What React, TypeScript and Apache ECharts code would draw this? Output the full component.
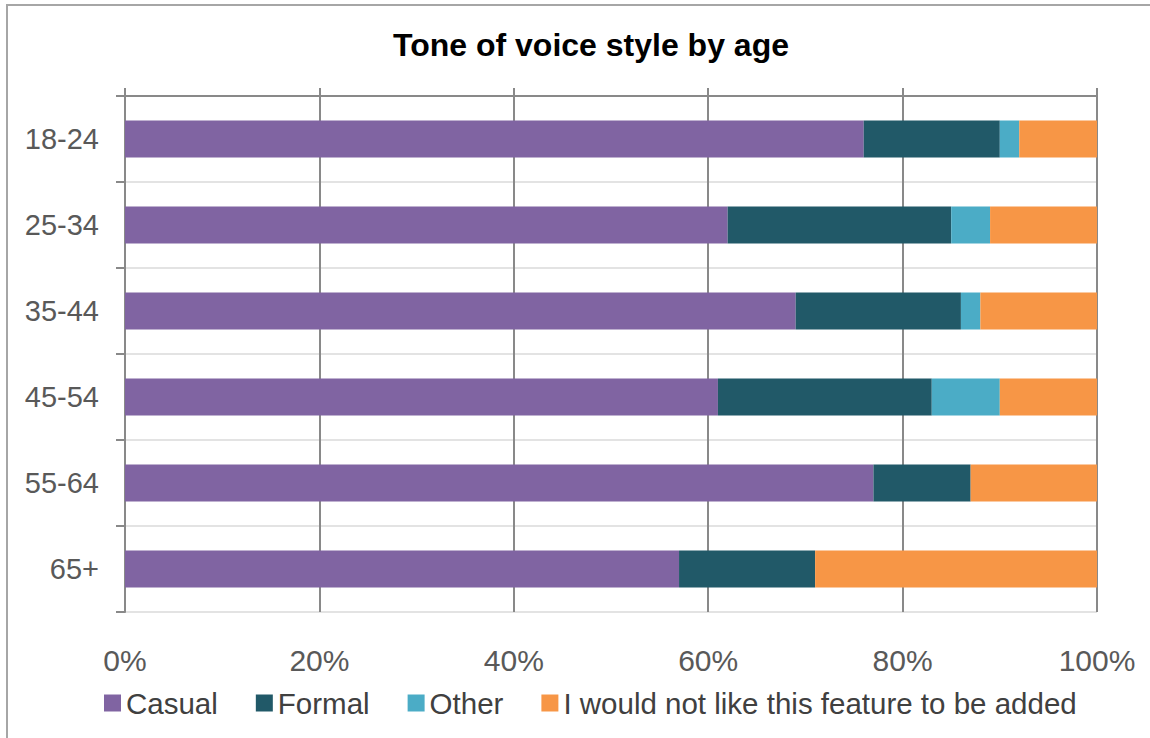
import React, { useEffect, useRef } from "react";
import * as echarts from "echarts";

// Share of respondents choosing each tone of voice, per age band (percent)
const ageBands = ["18-24", "25-34", "35-44", "45-54", "55-64", "65+"];
const casual = [76, 62, 69, 61, 77, 57];
const formal = [14, 23, 17, 22, 10, 14];
const other = [2, 4, 2, 7, 0, 0];
const notAdded = [8, 11, 12, 10, 13, 29];

const seriesNames = ["Casual", "Formal", "Other", "I would not like this feature to be added"];
const seriesColors = ["#8064A2", "#215968", "#4BACC6", "#F79646"];
const xTicks = [0, 20, 40, 60, 80, 100];

const FONT = "'Liberation Sans', Arial, sans-serif";

export default function App() {
  const ref = useRef<HTMLDivElement>(null);

  useEffect(() => {
    if (!ref.current) return;
    const chart = echarts.init(ref.current, undefined, { renderer: "svg" });
    const values = [casual, formal, other, notAdded];
    const axisGray = "#898989";

    chart.setOption({
      animation: false,
      backgroundColor: "#ffffff",
      textStyle: { fontFamily: FONT },
      title: {
        text: "Tone of voice style by age",
        left: 388,
        top: 24,
        textStyle: { fontFamily: FONT, fontSize: 32, fontWeight: "bold", color: "#000000" },
      },
      legend: {
        left: 99,
        top: 683,
        icon: "rect",
        itemWidth: 17,
        itemHeight: 17,
        itemGap: 38,
        textStyle: { fontFamily: FONT, fontSize: 29.5, color: "#404040" },
        data: seriesNames,
      },
      grid: { left: 125, right: 53, top: 96, bottom: 126, containLabel: false },
      xAxis: [
        {
          type: "value",
          position: "top",
          min: xTicks[0],
          max: xTicks[xTicks.length - 1],
          interval: 20,
          axisLine: { show: true, lineStyle: { color: axisGray, width: 2 } },
          axisTick: { show: true, length: 8, lineStyle: { color: axisGray, width: 2 } },
          axisLabel: { show: false },
          splitLine: { show: true, lineStyle: { color: axisGray, width: 2 } },
        },
        {
          type: "value",
          position: "bottom",
          min: xTicks[0],
          max: xTicks[xTicks.length - 1],
          interval: 20,
          axisLine: { show: false },
          axisTick: { show: false },
          splitLine: { show: false },
          axisLabel: {
            show: true,
            formatter: "{value}%",
            margin: 33,
            fontFamily: FONT,
            fontSize: 30,
            color: "#595959",
          },
        },
      ],
      yAxis: {
        type: "category",
        inverse: true,
        data: ageBands,
        axisLine: { show: true, lineStyle: { color: axisGray, width: 2 } },
        axisTick: { show: true, length: 9, lineStyle: { color: axisGray, width: 2 } },
        splitLine: { show: true, lineStyle: { color: "#e3e3e3", width: 2 } },
        axisLabel: { margin: 26, fontFamily: FONT, fontSize: 29, color: "#595959" },
      },
      graphic: [
        {
          type: "rect",
          shape: { x: 7, y: 5, width: 1300, height: 900 },
          style: { fill: "none", stroke: "#a6a6a6", lineWidth: 2 },
          silent: true,
          z: 100,
        },
      ],
      series: seriesNames.map((name, i) => ({
        name,
        type: "bar",
        stack: "total",
        xAxisIndex: 0,
        barWidth: 37,
        itemStyle: { color: seriesColors[i] },
        data: values[i],
      })),
    });

    return () => chart.dispose();
  }, []);

  return (
    <div
      ref={ref}
      style={{ position: "fixed", left: 0, top: 0, width: 1150, height: 738 }}
    />
  );
}
